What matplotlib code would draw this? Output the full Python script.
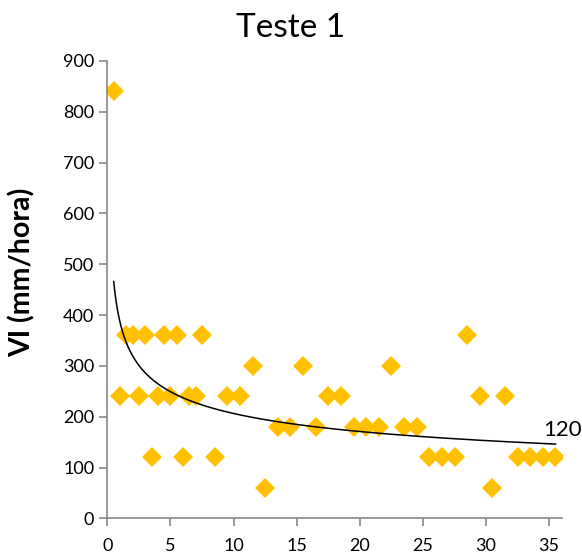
import numpy as np
import matplotlib
matplotlib.use('Agg')
import matplotlib.pyplot as plt

plt.rcParams['font.family'] = ['Lato', 'DejaVu Sans']

# time (h) and infiltration rate VI (mm/hora)
tempo = [0.5, 1, 1.5, 2, 2.5, 3, 3.5, 4, 4.5, 5, 5.5, 6, 6.5, 7, 7.5,
         8.5, 9.5, 10.5, 11.5, 12.5, 13.5, 14.5, 15.5, 16.5, 17.5, 18.5,
         19.5, 20.5, 21.5, 22.5, 23.5, 24.5, 25.5, 26.5, 27.5, 28.5, 29.5,
         30.5, 31.5, 32.5, 33.5, 34.5, 35.5]
vi = [840, 240, 360, 360, 240, 360, 120, 240, 360, 240, 360, 120, 240, 240, 360,
      120, 240, 240, 300, 60, 180, 180, 300, 180, 240, 240,
      180, 180, 180, 300, 180, 180, 120, 120, 120, 360, 240,
      60, 240, 120, 120, 120, 120]
rotulo = '120'

x = np.array(tempo)
y = np.array(vi)

# power trendline, least squares in log-log like Excel
p, lnc = np.polyfit(np.log(x), np.log(y), 1)
xt = np.linspace(x.min(), x.max(), 300)
yt = np.exp(lnc) * xt ** p

fig = plt.figure(figsize=(5.82, 5.57), dpi=100)
ax = fig.add_axes([0.1845, 0.0692, 0.7808, 0.8213])

ax.plot(x, y, linestyle='none', marker='D', markersize=10.5,
        color='#FFC000', markeredgewidth=0, zorder=2)
ax.plot(xt, yt, color='black', linewidth=1.1, zorder=3)
ax.text(x[-2], y[-2] + 55, rotulo, fontsize=16, ha='left', va='center')

ax.set_xlim(0, 36)
ax.set_ylim(0, 900)
ax.set_xticks(np.arange(0, 36, 5))
ax.set_yticks(np.arange(0, 901, 100))
for s in ['top', 'right']:
    ax.spines[s].set_visible(False)
for s in ['left', 'bottom']:
    ax.spines[s].set_color('#888888')
    ax.spines[s].set_linewidth(1.2)
ax.tick_params(colors='#888888', length=6, width=1.2, labelsize=13, labelcolor='black')
ax.tick_params(axis='x', pad=8)
ax.set_ylabel('VI (mm/hora)', fontsize=20.5, fontweight='bold')
ax.yaxis.set_label_coords(-0.158, 0.539)

fig.text(0.5, 1 - 28 / 557, 'Teste 1', fontsize=24, ha='center', va='center')

fig.savefig('out.png', dpi=100)
